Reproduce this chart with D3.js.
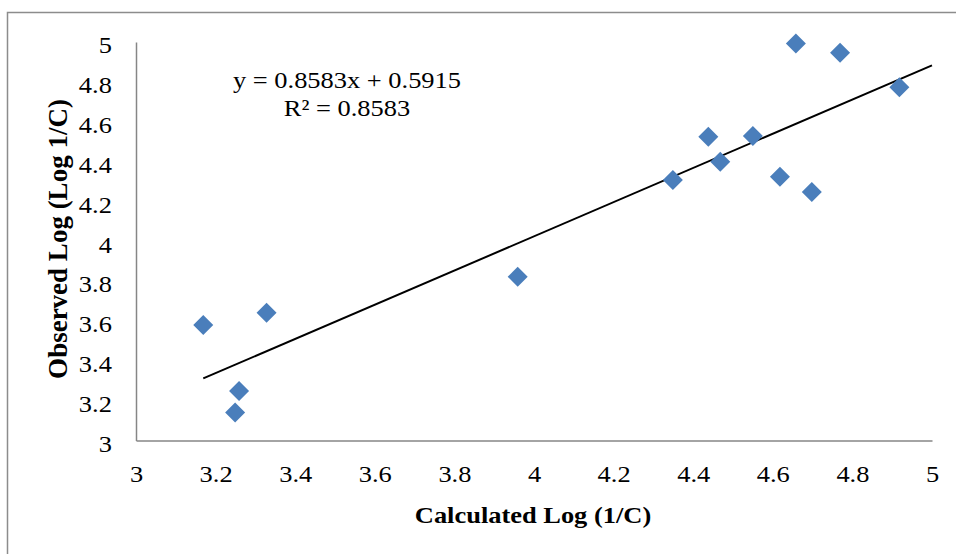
<!DOCTYPE html>
<html>
<head>
<meta charset="utf-8">
<script src="https://cdn.jsdelivr.net/npm/d3@7.9.0/dist/d3.min.js"></script>
<style>
  body { margin: 0; background: #fff; }
  svg text { font-family: "Liberation Serif", "Times New Roman", serif; fill: #000; }
</style>
</head>
<body>
<svg id="chart" width="956" height="554"></svg>
<script>
// calculated vs observed log(1/C)
const calculated = [3.169, 3.328, 3.259, 3.249, 3.959, 4.349, 4.438, 4.468, 4.550, 4.618, 4.698, 4.658, 4.769, 4.918];
const observed   = [3.580, 3.641, 3.249, 3.141, 3.822, 4.307, 4.525, 4.399, 4.528, 4.324, 4.247, 4.993, 4.946, 4.773];
const xTicks = [3, 3.2, 3.4, 3.6, 3.8, 4, 4.2, 4.4, 4.6, 4.8, 5];
const yTicks = [3, 3.2, 3.4, 3.6, 3.8, 4, 4.2, 4.4, 4.6, 4.8, 5];
const slope = 0.8583, intercept = 0.5915;
const equationLines = ["y = 0.8583x + 0.5915", "R² = 0.8583"];

// the source picture is a bit wider than tall, so text is stretched sideways
const stretch = 'scale(1.15,1)';
const svg = d3.select('#chart');

// outer chart border (only left and top fall inside the view)
svg.append('rect')
    .attr('x', 7.5).attr('y', 12.5)
    .attr('width', 1000).attr('height', 600)
    .attr('fill', 'none')
    .attr('stroke', '#8c8c8c')
    .attr('stroke-width', 1.5);

const x = d3.scaleLinear().domain([3, 5]).range([136, 932]);
const y = d3.scaleLinear().domain([3, 5]).range([440.5, 42]);

const fmt = d => String(+d.toFixed(1));

const xAxis = svg.append('g')
    .attr('transform', `translate(0,${y(3)})`)
    .call(d3.axisBottom(x).tickValues(xTicks).tickFormat(fmt).tickSize(0).tickPadding(25));
const yAxis = svg.append('g')
    .attr('transform', `translate(${x(3)},0)`)
    .call(d3.axisLeft(y).tickValues(yTicks).tickFormat(fmt).tickSize(0).tickPadding(21));

[xAxis, yAxis].forEach(g => {
    g.select('.domain').attr('stroke', '#868686').attr('stroke-width', 1.5);
    g.selectAll('text')
        .attr('font-size', 23)
        .attr('font-family', '"Liberation Serif", serif')
        .attr('transform', stretch);
});
yAxis.selectAll('text').attr('dy', '0.47em');

// trendline
const x0 = d3.min(calculated), x1 = 5;
svg.append('line')
    .attr('x1', x(x0)).attr('y1', y(slope * x0 + intercept))
    .attr('x2', x(x1)).attr('y2', y(slope * x1 + intercept))
    .attr('stroke', '#000')
    .attr('stroke-width', 2);

// points
const points = calculated.map((c, i) => ({ c, o: observed[i] }));
const diamond = d3.symbol().type(d3.symbolSquare).size(200);
svg.append('g').selectAll('path')
    .data(points)
    .join('path')
    .attr('d', diamond)
    .attr('transform', d => `translate(${x(d.c)},${y(d.o)}) rotate(45)`)
    .attr('fill', '#4a7ebb');

// equation
const eq = svg.append('g')
    .attr('transform', `translate(347,88) ${stretch}`)
    .append('text')
    .attr('text-anchor', 'middle')
    .attr('font-size', 23);
equationLines.forEach((t, i) => {
    eq.append('tspan').attr('x', 0).attr('y', i * 28).text(t);
});

// axis titles
svg.append('g')
    .attr('transform', `translate(533,523) ${stretch}`)
    .append('text')
    .attr('text-anchor', 'middle')
    .attr('font-size', 23)
    .attr('font-weight', 'bold')
    .text('Calculated Log (1/C)');

svg.append('text')
    .attr('transform', 'translate(67,239) rotate(-90)')
    .attr('text-anchor', 'middle')
    .attr('font-size', 27)
    .attr('font-weight', 'bold')
    .text('Observed Log (Log 1/C)');
</script>
</body>
</html>
